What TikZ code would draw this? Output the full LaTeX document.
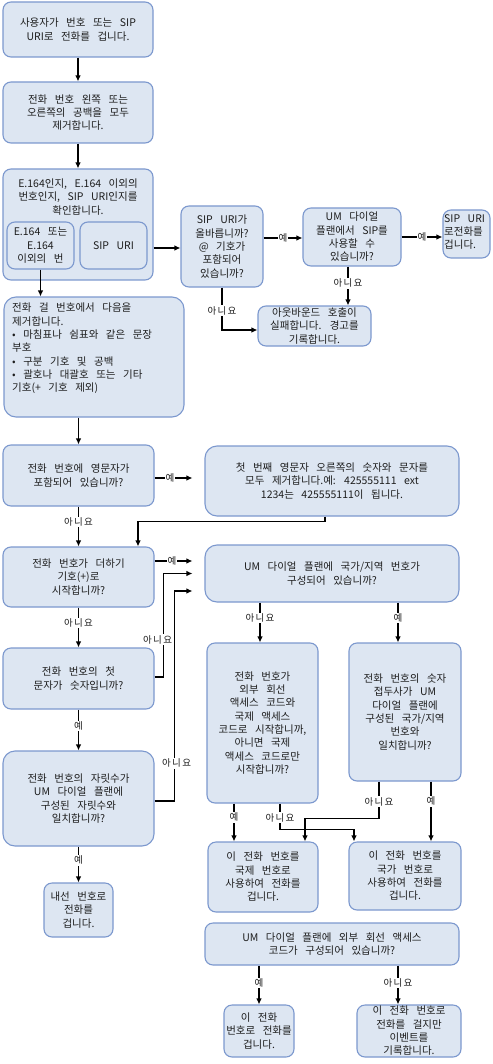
\documentclass[tikz,border=0pt]{standalone}
\usepackage{fontspec}
\setmainfont[WordSpace=3.2]{Noto Sans CJK KR}
\newfontfamily\labfont[LetterSpace=14]{Noto Sans CJK KR}
\usetikzlibrary{arrows.meta}
\definecolor{boxfill}{RGB}{221,230,242}
\definecolor{boxline}{RGB}{124,152,206}
\definecolor{txt}{RGB}{30,30,30}
\begin{document}
\begin{tikzpicture}[x=1pt,y=-1pt,
  box/.style={draw=boxline, fill=boxfill, line width=1.1pt, rounded corners=8pt, align=center,
    font=\fontsize{10.5}{13.3}\selectfont, text=txt, inner sep=1pt},
  plain/.style={align=center, font=\fontsize{10.5}{13.3}\selectfont, text=txt, inner sep=0pt},
  arr/.style={draw=black, line width=1.1pt, -{Latex[length=6pt,width=5.5pt]}},
  lab/.style={fill=white, inner sep=1pt, font=\labfont\fontsize{9.5}{9}\selectfont, text=txt}]
\useasboundingbox (0,0) rectangle (492,1064);

% boxes
\node[box, minimum width=150pt, minimum height=55pt] (b1) at (78,29.5) {사용자가 번호 또는 SIP\\URI로 전화를 겁니다.};
\node[box, minimum width=150pt, minimum height=61pt] (b2) at (78,112.5) {전화 번호 왼쪽 또는\\오른쪽의 공백을 모두\\제거합니다.};
\node[box, minimum width=150pt, minimum height=111pt] (b3) at (78,224.5) {};
\node[plain] (b3t) at (78,197) {E.164인지, E.164 이외의\\번호인지, SIP URI인지를\\확인합니다.};
\node[box, minimum width=67pt, minimum height=47pt] (b3a) at (40.5,245.5) {E.164 또는\\E.164\\이외의 번};
\node[box, minimum width=67pt, minimum height=47pt] (b3b) at (113.5,245.5) {SIP URI};
\node[box, minimum width=180pt, minimum height=120pt, rounded corners=12pt] (b4) at (94,357) {};
\node[plain, align=left, anchor=north west] (b4t) at (12,303) {전화 걸 번호에서 다음을\\제거합니다.\\• 마침표나 쉼표와 같은 문장\\부호\\• 구분 기호 및 공백\\• 괄호나 대괄호 또는 기타\\기호(+ 기호 제외)};
\node[box, minimum width=82pt, minimum height=81pt] (bsip) at (222,246.5) {SIP URI가\\올바릅니까?\\@ 기호가\\포함되어\\있습니까?};
\node[box, minimum width=98pt, minimum height=58pt] (bum) at (352,237) {UM 다이얼\\플랜에서 SIP를\\사용할 수\\있습니까?};
\node[box, minimum width=47pt, minimum height=48pt] (bcall) at (466.5,234) {};
\node[plain, align=left, anchor=west] (bcallt) at (444,232) {SIP URI\\로전화를\\겁니다.};
\node[box, minimum width=113pt, minimum height=40pt] (bfail) at (314.5,326) {아웃바운드 호출이\\실패합니다. 경고를\\기록합니다.};
\node[box, minimum width=151pt, minimum height=61pt] (b5) at (78.5,475.5) {전화 번호에 영문자가\\포함되어 있습니까?};
\node[box, minimum width=254pt, minimum height=70pt, rounded corners=12pt] (b6) at (332,481) {첫 번째 영문자 오른쪽의 숫자와 문자를\\모두 제거합니다.예: 425555111 ext\\1234는 425555111이 됩니다.};
\node[box, minimum width=151pt, minimum height=60pt] (b7) at (78.5,577) {전화 번호가 더하기\\기호(+)로\\시작합니까?};
\node[box, minimum width=254pt, minimum height=57pt, rounded corners=12pt] (b8) at (332,573.5) {UM 다이얼 플랜에 국가/지역 번호가\\구성되어 있습니까?};
\node[box, minimum width=151pt, minimum height=61pt] (b9) at (78.5,678.5) {전화 번호의 첫\\문자가 숫자입니까?};
\node[box, minimum width=151pt, minimum height=95pt, rounded corners=12pt] (b10) at (78.5,798.5) {전화 번호의 자릿수가\\UM 다이얼 플랜에\\구성된 자릿수와\\일치합니까?};
\node[box, minimum width=69pt, minimum height=54pt] (b11) at (78.5,910) {내선 번호로\\전화를\\겁니다.};
\node[box, minimum width=111pt, minimum height=160pt] (b12) at (262.5,723) {전화 번호가\\외부 회선\\액세스 코드와\\국제 액세스\\코드로 시작합니까,\\아니면 국제\\액세스 코드로만\\시작합니까?};
\node[box, minimum width=112pt, minimum height=138pt] (b13) at (405,712) {전화 번호의 숫자\\접두사가 UM\\다이얼 플랜에\\구성된 국가/지역\\번호와\\일치합니까?};
\node[box, minimum width=110pt, minimum height=70pt] (b14) at (263,877) {이 전화 번호를\\국제 번호로\\사용하여 전화를\\겁니다.};
\node[box, minimum width=112pt, minimum height=68pt] (b15) at (405,876) {이 전화 번호를\\국가 번호로\\사용하여 전화를\\겁니다.};
\node[box, minimum width=254pt, minimum height=42pt] (b16) at (332,944) {UM 다이얼 플랜에 외부 회선 액세스\\코드가 구성되어 있습니까?};
\node[box, minimum width=70pt, minimum height=52pt] (b17) at (259,1031) {이 전화\\번호로 전화를\\겁니다.};
\node[box, minimum width=104pt, minimum height=52pt] (b18) at (409,1031) {이 전화 번호로\\전화를 걸지만\\이벤트를\\기록합니다.};

% connectors
\draw[arr] (b1) -- (b2);
\draw[arr] (b2) -- (b3);
\draw[arr] (b3a.south) -- (b3a.south |- b4.north);
\coordinate (p1) at ([yshift=-23.5pt]b3.east);
\draw[arr] (p1) -- (p1 -| bsip.west);
\coordinate (p2) at ([yshift=8.5pt]bsip.east);
\draw[arr] (p2) -- node[lab]{예} (p2 -| bum.west);
\draw[arr] (bum.east) -- node[lab]{예} (bum.east -| bcall.west);
\coordinate (p3) at ([xshift=-4pt]bum.south);
\draw[arr] (p3) -- node[lab, pos=0.43]{아니요} (p3 |- bfail.north);
\draw[arr] (bsip.south) |- node[lab, pos=0.27]{아니요} ([yshift=-4pt]bfail.west);
\draw[arr] (b5.north |- b4.south) -- (b5.north);
\coordinate (p4) at ([yshift=-2.5pt]b5.east);
\draw[arr, shorten >=12pt] (p4) -- node[lab, pos=0.31]{예} (p4 -| b6.west);
\draw[arr] ([xshift=-7pt]b6.south) -- ++(0,5) -| ([xshift=59.5pt]b7.north);
\draw[arr] (b5.south) -- node[lab, pos=0.39]{아니요} (b7.north);
\coordinate (p5) at ([yshift=16pt]b7.east);
\draw[arr, shorten >=12pt] (p5) -- node[lab, pos=0.35]{예} (p5 -| b8.west);
\draw[arr] (b7.south) -- node[lab, pos=0.39]{아니요} (b9.north);
\draw[arr] ([yshift=1.5pt]b9.east) -- ++(9,0) |- node[lab, pos=0.18, xshift=-6pt]{아니요} ([xshift=-12pt]b8.west);
\draw[arr] ([yshift=-2.5pt]b10.east) -- ++(20,0) |- node[lab, pos=0.09, xshift=2pt]{아니요} ([xshift=-12pt, yshift=-17.5pt]b8.west);
\draw[arr] (b9.south) -- node[lab, pos=0.4]{예} (b10.north);
\draw[arr] (b10.south) -- node[lab, pos=0.38]{예} (b11.north);
\coordinate (p6) at ([xshift=-72pt]b8.south);
\draw[arr] (p6) -- node[lab, pos=0.39]{아니요} (p6 |- b12.north);
\coordinate (p7) at ([xshift=66pt]b8.south);
\draw[arr] (p7) -- node[lab, pos=0.39]{예} (p7 |- b13.north);
\coordinate (p8) at ([xshift=-28.5pt]b12.south);
\draw[arr] (p8) -- node[lab, pos=0.36]{예} (p8 |- b14.north);
\draw[arr] ([xshift=17.5pt]b12.south) -- node[lab, pos=0.54]{아니요} ++(0,26) -| ([xshift=-51pt]b15.north);
\draw[arr] ([xshift=-26pt]b13.south) -- node[lab, pos=0.54]{아니요} ++(0,37) -| ([xshift=42pt]b14.north);
\coordinate (p9) at ([xshift=26pt]b13.south);
\draw[arr, line width=1.8pt] (p9) -- node[lab, pos=0.33]{예} (p9 |- b15.north);
\draw[arr] (b17.north |- b16.south) -- node[lab, pos=0.45]{예} (b17.north);
\coordinate (p10) at ([xshift=66pt]b16.south);
\draw[arr] (p10) -- node[lab, pos=0.45]{아니요} (p10 |- b18.north);
\end{tikzpicture}
\end{document}
